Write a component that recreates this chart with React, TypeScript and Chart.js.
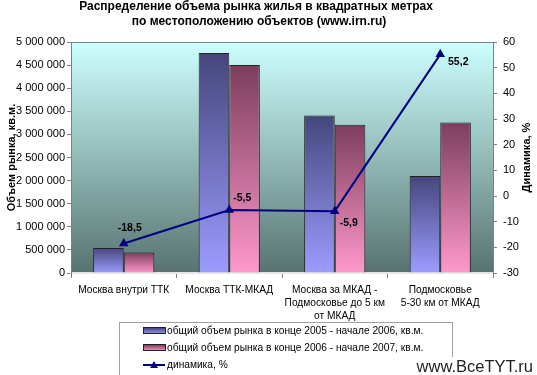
import React, { useEffect, useRef } from 'react';
import { Chart, registerables } from 'chart.js';

Chart.register(...registerables);

const titleLines = [
  'Распределение объема рынка жилья в квадратных метрах',
  'по местоположению объектов (www.irn.ru)',
];
const categories = [
  ['Москва внутри ТТК'],
  ['Москва ТТК-МКАД'],
  ['Москва за МКАД -', 'Подмосковье до 5 км', 'от МКАД'],
  ['Подмосковье', '5-30 км от МКАД'],
];
const seriesNames = [
  'общий объем рынка в конце 2005 - начале 2006, кв.м.',
  'общий объем рынка в конце 2006 - начале 2007, кв.м.',
  'динамика, %',
];
const volume2005 = [540000, 4760000, 3410000, 2100000];
const volume2006 = [445000, 4500000, 3210000, 3260000];
const dynamics = [-18.5, -5.5, -5.9, 55.2];
const dynamicsLabels = ['-18,5', '-5,5', '-5,9', '55,2'];
const leftAxisTitle = 'Объем рынка, кв.м.';
const rightAxisTitle = 'Динамика, %';
const leftMin = 0;
const leftMax = 5000000;
const leftStep = 500000;
const rightMin = -30;
const rightMax = 60;
const rightStep = 10;
const watermark = 'www.BceTYT.ru';

// label offsets relative to points (layout, not data)
const labelOffsets = [
  [6, -15],
  [13, -12],
  [14, 12],
  [18, 8],
];

const FONT = '"Liberation Sans", Arial, sans-serif';
const BLUE = ['#46467c', '#9c9cff'];
const PINK = ['#7c3e5c', '#ff99cc'];

const fmt = (v: number) => String(v).replace(/\B(?=(\d{3})+(?!\d))/g, ' ');

function barGradient(colors: string[]) {
  return (ctx: any) => {
    const chart = ctx.chart;
    const area = chart.chartArea;
    const y = chart.scales && chart.scales.y;
    if (!area || !y || ctx.type !== 'data') return colors[1];
    const top = y.getPixelForValue(ctx.raw);
    const bottom = y.getPixelForValue(0);
    if (!isFinite(top) || !isFinite(bottom) || top === bottom) return colors[1];
    const g = chart.ctx.createLinearGradient(0, top, 0, bottom);
    g.addColorStop(0, colors[0]);
    g.addColorStop(1, colors[1]);
    return g;
  };
}

const decorPlugin = {
  id: 'decor',
  beforeDraw(chart: any) {
    const { ctx, chartArea: a, width, height } = chart;
    ctx.save();
    ctx.fillStyle = '#ffffff';
    ctx.fillRect(0, 0, width, height);
    const g = ctx.createLinearGradient(0, a.top, 0, a.bottom);
    g.addColorStop(0, '#ccffff');
    g.addColorStop(0.5, '#93bab7');
    g.addColorStop(1, '#577371');
    ctx.fillStyle = g;
    ctx.fillRect(a.left, a.top, a.right - a.left, a.bottom - a.top);
    ctx.strokeStyle = '#808080';
    ctx.lineWidth = 1;
    ctx.beginPath();
    ctx.moveTo(a.left, a.top + 0.5);
    ctx.lineTo(a.right, a.top + 0.5);
    ctx.stroke();
    ctx.restore();
  },
  afterDatasetsDraw(chart: any) {
    const { ctx } = chart;
    const meta = chart.getDatasetMeta(2);
    ctx.save();
    ctx.font = `bold 10.5px ${FONT}`;
    ctx.fillStyle = '#000';
    ctx.textAlign = 'center';
    ctx.textBaseline = 'middle';
    meta.data.forEach((pt: any, i: number) => {
      const [dx, dy] = labelOffsets[i];
      ctx.fillText(dynamicsLabels[i], pt.x + dx, pt.y + dy);
    });
    ctx.restore();
  },
  afterDraw(chart: any) {
    const { ctx, chartArea: a } = chart;
    ctx.save();
    // title
    ctx.font = `bold 12px ${FONT}`;
    ctx.fillStyle = '#000';
    ctx.textAlign = 'center';
    ctx.textBaseline = 'middle';
    ctx.fillText(titleLines[0], 256, 7);
    ctx.fillText(titleLines[1], 259, 22);
    // axis titles
    const midY = (a.top + a.bottom) / 2;
    ctx.font = `bold 11px ${FONT}`;
    ctx.save();
    ctx.translate(12, midY);
    ctx.rotate(-Math.PI / 2);
    ctx.fillText(leftAxisTitle, 0, 0);
    ctx.restore();
    ctx.save();
    ctx.translate(527, midY);
    ctx.rotate(-Math.PI / 2);
    ctx.fillText(rightAxisTitle, 0, 0);
    ctx.restore();
    // legend
    const lx = 119.5, ly = 322.5, lw = 333, lh = 53;
    ctx.strokeStyle = '#a0a0a0';
    ctx.lineWidth = 1;
    ctx.strokeRect(lx, ly, lw, lh);
    const rows = [331, 348, 365];
    ctx.font = `10.2px ${FONT}`;
    ctx.textAlign = 'left';
    [BLUE, PINK].forEach((cols, i) => {
      const y = rows[i];
      const g = ctx.createLinearGradient(0, y - 3, 0, y + 3);
      g.addColorStop(0, cols[0]);
      g.addColorStop(1, cols[1]);
      ctx.fillStyle = g;
      ctx.fillRect(143, y - 3, 22, 6);
      ctx.strokeStyle = '#222';
      ctx.strokeRect(143.5, y - 3.5, 22, 6);
      ctx.fillStyle = '#000';
      ctx.fillText(seriesNames[i], 167, y + 0.5);
    });
    {
      const y = rows[2];
      ctx.strokeStyle = '#000080';
      ctx.lineWidth = 2;
      ctx.beginPath();
      ctx.moveTo(143, y);
      ctx.lineTo(165, y);
      ctx.stroke();
      ctx.fillStyle = '#000080';
      ctx.beginPath();
      ctx.moveTo(154, y - 4);
      ctx.lineTo(158, y + 3);
      ctx.lineTo(150, y + 3);
      ctx.closePath();
      ctx.fill();
      ctx.fillStyle = '#000';
      ctx.fillText(seriesNames[2], 167, y + 0.5);
    }
    // watermark
    ctx.font = `16.5px ${FONT}`;
    const w = ctx.measureText(watermark).width;
    ctx.fillStyle = '#ffffff';
    ctx.fillRect(533 - w - 2, 357, w + 4, 18);
    ctx.fillStyle = '#222';
    ctx.textAlign = 'right';
    ctx.fillText(watermark, 533, 367);
    ctx.restore();
  },
};

export default function App() {
  const ref = useRef<HTMLCanvasElement | null>(null);
  useEffect(() => {
    document.body.style.margin = '0';
    const canvas = ref.current;
    if (!canvas) return;
    const chart = new Chart(canvas, {
      type: 'bar',
      data: {
        labels: categories,
        datasets: [
          {
            type: 'bar',
            label: seriesNames[0],
            data: volume2005,
            backgroundColor: barGradient(BLUE),
            borderColor: '#222',
            borderWidth: 1,
            yAxisID: 'y',
            order: 1,
            categoryPercentage: 0.58,
            barPercentage: 1,
          },
          {
            type: 'bar',
            label: seriesNames[1],
            data: volume2006,
            backgroundColor: barGradient(PINK),
            borderColor: '#222',
            borderWidth: 1,
            yAxisID: 'y',
            order: 2,
            categoryPercentage: 0.58,
            barPercentage: 1,
          },
          {
            type: 'line',
            label: seriesNames[2],
            data: dynamics,
            borderColor: '#000080',
            backgroundColor: '#000080',
            borderWidth: 2,
            pointStyle: 'triangle',
            pointRadius: 3.5,
            yAxisID: 'y1',
            order: 0,
            tension: 0,
          },
        ],
      } as any,
      options: {
        responsive: false,
        animation: false,
        devicePixelRatio: 1,
        layout: { padding: { top: 42, left: 0, right: 0, bottom: 0 } },
        plugins: {
          legend: { display: false },
          title: { display: false },
          tooltip: { enabled: false },
        },
        scales: {
          x: {
            offset: true,
            grid: { offset: true, drawOnChartArea: false, drawTicks: true, tickLength: 5, color: '#808080' },
            border: { display: true, color: '#e6e6e6', width: 2 },
            ticks: {
              color: '#000',
              font: { family: FONT, size: 10.2, lineHeight: 1.28 },
              padding: 6,
              maxRotation: 0,
              autoSkip: false,
            },
            afterFit: (s: any) => {
              s.height = 102;
            },
          },
          y: {
            position: 'left',
            min: leftMin,
            max: leftMax,
            grid: { drawOnChartArea: false, drawTicks: true, tickLength: 4, color: '#808080' },
            border: { display: true, color: '#808080' },
            ticks: {
              stepSize: leftStep,
              color: '#000',
              font: { family: FONT, size: 11 },
              padding: 2,
              callback: (v: any) => fmt(Number(v)),
            },
            afterFit: (s: any) => {
              s.width = 71;
            },
          },
          y1: {
            position: 'right',
            min: rightMin,
            max: rightMax,
            grid: { drawOnChartArea: false, drawTicks: true, tickLength: 4, color: '#808080' },
            border: { display: true, color: '#808080' },
            ticks: {
              stepSize: rightStep,
              color: '#000',
              font: { family: FONT, size: 11 },
              padding: 6,
            },
            afterFit: (s: any) => {
              s.width = 44;
            },
          },
        },
      },
      plugins: [decorPlugin],
    } as any);
    return () => chart.destroy();
  }, []);
  return (
    <div style={{ width: 537, height: 375 }}>
      <canvas ref={ref} width={537} height={375} style={{ display: 'block', width: 537, height: 375 }} />
    </div>
  );
}
